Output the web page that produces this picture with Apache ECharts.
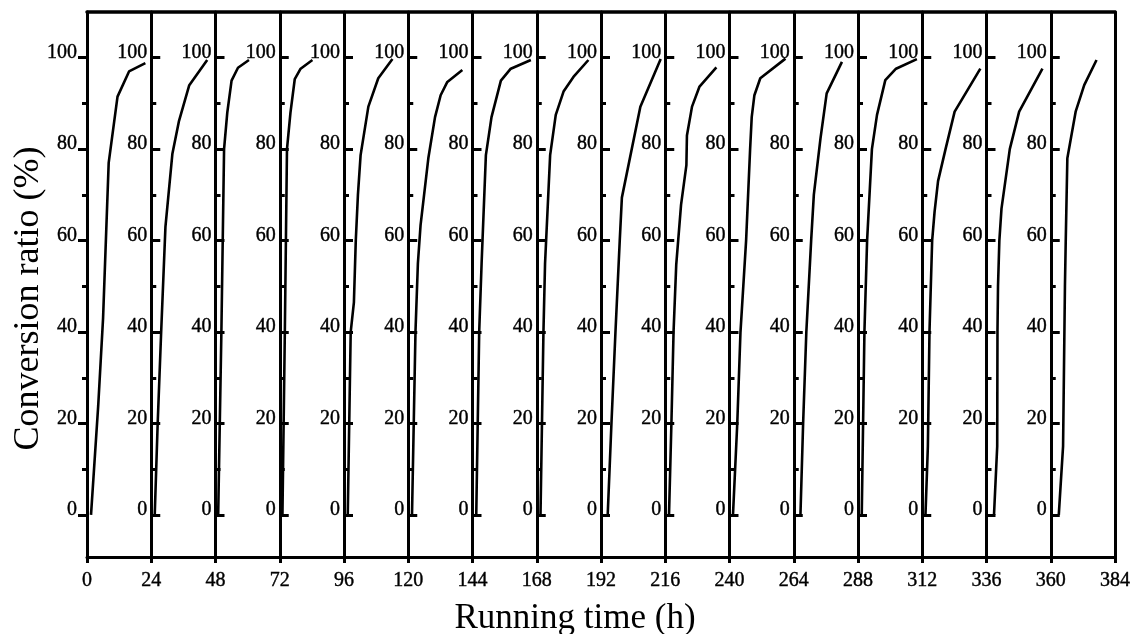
<!DOCTYPE html>
<html>
<head>
<meta charset="utf-8">
<script src="https://cdn.jsdelivr.net/npm/echarts@6/dist/echarts.min.js"></script>
<style>
  html, body { margin: 0; padding: 0; background: #fff; }
  #chart { width: 1133px; height: 634px; }
</style>
</head>
<body>
<div id="chart"></div>
<script>
// Repeated batch runs: each 24 h cycle restarts the conversion from zero.
const cycleLength = 24;
const cycleStarts = [0, 24, 48, 72, 96, 120, 144, 168, 192, 216, 240, 264, 288, 312, 336, 360];
const timeTicks = [0, 24, 48, 72, 96, 120, 144, 168, 192, 216, 240, 264, 288, 312, 336, 360, 384];
const conversionTicks = [0, 20, 40, 60, 80, 100];
const conversionMinorTicks = [10, 30, 50, 70, 90];

// [hours into the cycle, conversion ratio %]
const cycle01 = [[1.5, 0], [4.2, 24], [6.0, 43], [8.1, 77], [11.4, 91.5], [15.7, 97], [21.8, 98.8]];
const cycle02 = [[1.3, 0], [2.4, 20], [3.7, 40], [5.3, 63], [7.9, 79], [10.3, 86], [14.2, 94], [20.9, 99.5]];
const cycle03 = [[1.0, 0], [2.2, 40], [3.2, 80], [4.4, 88], [6.0, 95], [8.4, 97.8], [12.5, 99.5]];
const cycle04 = [[1.0, 0], [1.9, 40], [2.7, 80], [4.0, 88], [5.6, 95.3], [7.8, 97.6], [12.2, 99.5]];
const cycle05 = [[1.4, 0], [2.5, 40], [3.7, 46.5], [4.4, 60], [5.2, 70], [6.2, 78.7], [9.1, 89.3], [12.8, 95.5], [18.1, 99.7]];
const cycle06 = [[1.4, 0], [2.7, 40], [3.6, 55], [4.6, 63.4], [7.5, 78], [10.0, 87], [12.1, 91.8], [14.6, 94.7], [20.2, 97.3]];
const cycle07 = [[1.4, 0], [2.5, 40], [3.4, 55], [5.0, 78.7], [7.1, 87], [10.6, 95], [14.3, 97.6], [21.8, 99.5]];
const cycle08 = [[1.4, 0], [2.5, 40], [3.1, 55], [5.0, 78.7], [7.1, 87.5], [10.0, 92.6], [13.7, 95.8], [19.3, 99.5]];
const cycle09 = [[2.5, 0], [3.9, 20], [5.4, 40], [7.0, 60], [7.8, 69.4], [14.7, 89.3], [22.3, 99.7]];
const cycle10 = [[1.4, 0], [2.3, 20], [3.1, 40], [4.1, 54.7], [5.9, 67.8], [7.9, 76.5], [8.1, 83], [10.0, 89.3], [12.8, 93.7], [19.1, 97.9]];
const cycle11 = [[1.3, 0], [2.9, 20], [4.1, 40], [6.2, 60], [7.7, 80], [8.3, 87], [9.3, 91.8], [11.5, 95.5], [20.9, 99.8]];
const cycle12 = [[2.5, 0], [3.5, 20], [4.7, 40], [6.5, 60], [7.5, 70], [10.0, 82.4], [12.3, 92.2], [18.0, 99.1]];
const cycle13 = [[1.4, 0], [1.9, 20], [2.4, 40], [3.4, 60], [5.2, 80], [7.1, 87.5], [10.2, 95.1], [14.2, 97.6], [22.0, 99.7]];
const cycle14 = [[1.2, 0], [2.1, 15], [2.7, 40], [3.7, 60], [4.6, 66.3], [5.9, 73], [8.7, 80], [12.1, 88.2], [21.7, 97.6]];
const cycle15 = [[2.8, 0], [4.0, 15], [4.1, 40], [4.3, 50], [4.8, 60], [5.6, 67], [8.7, 80], [12.2, 88.2], [20.9, 97.6]];
const cycle16 = [[3.0, 0], [4.6, 15], [5.3, 50], [5.6, 60], [6.2, 78], [9.3, 88.2], [12.5, 94], [17.1, 99.5]];

const cycles = [cycle01, cycle02, cycle03, cycle04, cycle05, cycle06, cycle07, cycle08,
                cycle09, cycle10, cycle11, cycle12, cycle13, cycle14, cycle15, cycle16];

const FONT = "'Liberation Serif', 'Times New Roman', serif";
const INK = '#000';
const Y_MIN = -9.2;
const Y_MAX = 110;
const GRID = { left: 87, right: 18, top: 12, bottom: 77 };

const el = document.getElementById('chart');
const chart = echarts.init(el, null, { renderer: 'canvas' });

// every cycle gets its own conversion axis drawn on its starting line
const plotWidth = el.clientWidth - GRID.left - GRID.right;
const totalHours = timeTicks[timeTicks.length - 1];
const cycleWidth = plotWidth * cycleLength / totalHours;

const tickLabelStyle = {
  color: INK, fontFamily: FONT, fontSize: 20,
  textBorderColor: INK, textBorderWidth: 0.4
};

const yAxes = [];
cycleStarts.forEach((start, k) => {
  const inward = k > 0;
  const offset = -k * cycleWidth;
  yAxes.push({
    type: 'value', min: Y_MIN, max: Y_MAX, position: 'left', offset: offset,
    axisLine: { show: true, onZero: false, lineStyle: { color: INK, width: 3 } },
    axisTick: { show: true, inside: inward, length: 9, customValues: conversionTicks,
                lineStyle: { color: INK, width: 3 } },
    axisLabel: Object.assign({ show: true, customValues: conversionTicks, margin: inward ? 4 : 10,
                               verticalAlign: 'bottom', lineHeight: 10 }, tickLabelStyle),
    splitLine: { show: false },
    name: k === 0 ? 'Conversion ratio (%)' : '',
    nameLocation: 'middle', nameGap: 40, nameRotate: 90, nameMoveOverlap: false,
    nameTextStyle: { color: INK, fontFamily: FONT, fontSize: 36, padding: [0, 28, 0, 0] }
  });
  // minor ticks at the odd tens
  yAxes.push({
    type: 'value', min: Y_MIN, max: Y_MAX, position: 'left', offset: offset,
    axisLine: { show: false, onZero: false },
    axisTick: { show: true, inside: inward, length: 5, customValues: conversionMinorTicks,
                lineStyle: { color: INK, width: 3 } },
    axisLabel: { show: false },
    splitLine: { show: false }
  });
});
// closing frame line on the right
yAxes.push({
  type: 'value', min: Y_MIN, max: Y_MAX, position: 'right',
  axisLine: { show: true, onZero: false, lineStyle: { color: INK, width: 3 } },
  axisTick: { show: false }, axisLabel: { show: false }, splitLine: { show: false }
});

const series = cycles.map((points, k) => ({
  type: 'line',
  xAxisIndex: 0,
  yAxisIndex: 0,
  symbol: 'none',
  showSymbol: false,
  silent: true,
  lineStyle: { color: INK, width: 2.6 },
  data: points.map(p => [cycleStarts[k] + p[0], p[1]])
}));

chart.setOption({
  backgroundColor: '#fff',
  animation: false,
  grid: { left: GRID.left, right: GRID.right, top: GRID.top, bottom: GRID.bottom, outerBoundsMode: 'none' },
  xAxis: [
    {
      type: 'value', min: 0, max: totalHours, interval: cycleLength, position: 'bottom',
      axisLine: { show: true, onZero: false, lineStyle: { color: INK, width: 3 } },
      axisTick: { show: true, inside: false, length: 6, customValues: timeTicks,
                  lineStyle: { color: INK, width: 3 } },
      axisLabel: Object.assign({ customValues: timeTicks, margin: 14 }, tickLabelStyle),
      splitLine: { show: false },
      name: 'Running time (h)', nameLocation: 'middle', nameGap: 44, nameMoveOverlap: false,
      nameTextStyle: { color: INK, fontFamily: FONT, fontSize: 35, padding: [0, 52, 0, 0] }
    },
    {
      type: 'value', min: 0, max: totalHours, position: 'top',
      axisLine: { show: true, onZero: false, lineStyle: { color: INK, width: 3.5 } },
      axisTick: { show: false }, axisLabel: { show: false }, splitLine: { show: false }
    }
  ],
  yAxis: yAxes,
  series: series
});
</script>
</body>
</html>
